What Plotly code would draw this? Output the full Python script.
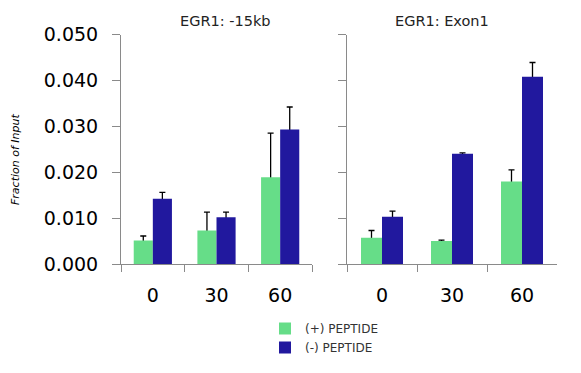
import plotly.graph_objects as go

W, H = 581, 373
OFF = 8  # the page body margin of the browser
FW, FH = W - OFF, H - OFF

categories = ["0", "30", "60"]

# EGR1: -15kb
kb15_plus = [0.0051, 0.0073, 0.0189]
kb15_plus_err = [0.0010, 0.0040, 0.0096]
kb15_minus = [0.0142, 0.0102, 0.0293]
kb15_minus_err = [0.0014, 0.0011, 0.0049]

# EGR1: Exon1
exon_plus = [0.0057, 0.0050, 0.0180]
exon_plus_err = [0.0016, 0.0002, 0.0025]
exon_minus = [0.0103, 0.0240, 0.0408]
exon_minus_err = [0.0012, 0.0002, 0.0031]

y_ticks = [0.0, 0.01, 0.02, 0.03, 0.04, 0.05]
panel_titles = ["EGR1: -15kb", "EGR1: Exon1"]
series_names = ["(+) PEPTIDE", "(-) PEPTIDE"]
y_title = "Fraction of Input"

GREEN = "#66DD88"
BLUE = "#21189E"
AXIS = "#8a8a8a"
FONT = "DejaVu Sans"

BAR_W = 0.3
SHOE = 0.0005  # keeps the lower end of each error line hidden under its bar


def px(x):
    return (x - OFF) / FW


def py(y):
    return 1 - (y - OFF) / FH


fig = go.Figure()

panels = [
    ("x", "y", kb15_plus, kb15_plus_err, kb15_minus, kb15_minus_err, True),
    ("x2", "y2", exon_plus, exon_plus_err, exon_minus, exon_minus_err, False),
]

for xa, ya, p, pe, m, me, show in panels:
    # error-bar-only traces first, so the bars drawn after them cover the lower ends
    for vals, errs, off in [(p, pe, -BAR_W), (m, me, 0.0)]:
        fig.add_trace(go.Bar(
            x=categories, y=vals, width=BAR_W, offset=off,
            marker=dict(color="rgba(0,0,0,0)", line=dict(width=0)),
            error_y=dict(type="data", symmetric=False, array=errs,
                         arrayminus=[SHOE] * len(errs),
                         color="black", thickness=1.3, width=3),
            showlegend=False, hoverinfo="skip", xaxis=xa, yaxis=ya,
        ))
    fig.add_trace(go.Bar(
        x=categories, y=p, width=BAR_W, offset=-BAR_W, name=series_names[0],
        marker=dict(color=GREEN, line=dict(width=0)),
        showlegend=show, legendgroup="plus", xaxis=xa, yaxis=ya,
    ))
    fig.add_trace(go.Bar(
        x=categories, y=m, width=BAR_W, offset=0.0, name=series_names[1],
        marker=dict(color=BLUE, line=dict(width=0)),
        showlegend=show, legendgroup="minus", xaxis=xa, yaxis=ya,
    ))

ydom = [py(264), py(34.5)]

xcommon = dict(
    type="category", range=[-0.5, 2.5], tickson="boundaries",
    ticks="outside", ticklen=7, tickcolor=AXIS, tickwidth=1,
    showline=True, linecolor=AXIS, linewidth=1, showgrid=False, zeroline=False,
    tickfont=dict(family=FONT, size=19, color="black"), ticklabelstandoff=14,
    fixedrange=True, automargin=False,
)
ycommon = dict(
    range=[0, 0.05], tickvals=y_ticks, tickformat=".3f",
    ticks="outside", ticklen=8, tickcolor=AXIS, tickwidth=1,
    showline=True, linecolor=AXIS, linewidth=1, showgrid=False, zeroline=False,
    tickfont=dict(family=FONT, size=19, color="black"), ticklabelstandoff=10,
    domain=ydom, fixedrange=True, automargin=False,
)

fig.update_layout(
    template="none",
    width=FW, height=FH,
    margin=dict(l=0, r=0, t=0, b=0, pad=0, autoexpand=False),
    paper_bgcolor="white", plot_bgcolor="white",
    barmode="overlay",
    font=dict(family=FONT, color="black"),
    xaxis=dict(xcommon, domain=[px(121), px(312)], anchor="y"),
    yaxis=dict(ycommon, anchor="x"),
    xaxis2=dict(xcommon, domain=[px(347), px(557)], anchor="y2"),
    yaxis2=dict(ycommon, anchor="x2", showticklabels=False),
    legend=dict(
        x=px(265), y=py(314), xanchor="left", yanchor="top",
        font=dict(family=FONT, size=12, color="#333333"),
        bgcolor="rgba(0,0,0,0)", borderwidth=0, itemwidth=30,
        tracegroupgap=0,
    ),
    annotations=[
        dict(text=panel_titles[0], x=px(225), y=py(21), xref="paper", yref="paper",
             xanchor="center", yanchor="middle", showarrow=False,
             font=dict(family=FONT, size=14.5, color="#222222")),
        dict(text=panel_titles[1], x=px(442), y=py(21), xref="paper", yref="paper",
             xanchor="center", yanchor="middle", showarrow=False,
             font=dict(family=FONT, size=14.5, color="#222222")),
        dict(text="<i>" + y_title + "</i>", x=px(15), y=py(160), xref="paper", yref="paper",
             xanchor="center", yanchor="middle", showarrow=False, textangle=-90,
             font=dict(family=FONT, size=11, color="black")),
    ],
)

fig.write_html("out.html")
